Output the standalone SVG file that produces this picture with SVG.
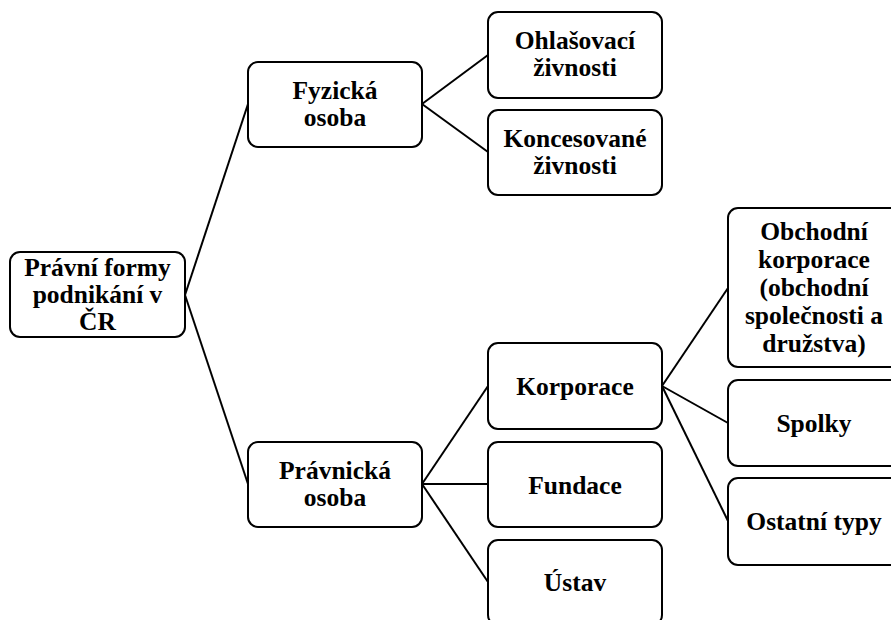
<svg xmlns="http://www.w3.org/2000/svg" width="891" height="620" viewBox="0 0 891 620">
<style>
.box{fill:#fff;stroke:#000;stroke-width:2}
.t{font-family:'Liberation Serif','Times New Roman','DejaVu Serif',serif;font-weight:700;font-size:25.5px;fill:#000;text-anchor:middle}
.c{stroke:#000;stroke-width:2;fill:none}
</style>
<rect width="891" height="620" fill="#fff"/>
<g id="connectors">
<line class="c" x1="185" y1="295" x2="248" y2="104"/>
<line class="c" x1="185" y1="295" x2="248" y2="484"/>
<line class="c" x1="422" y1="104" x2="488" y2="55"/>
<line class="c" x1="422" y1="104" x2="488" y2="152"/>
<line class="c" x1="422" y1="484" x2="488" y2="386"/>
<line class="c" x1="422" y1="484" x2="488" y2="484"/>
<line class="c" x1="422" y1="484" x2="488" y2="582"/>
<line class="c" x1="662" y1="386" x2="728" y2="288"/>
<line class="c" x1="662" y1="386" x2="728" y2="423"/>
<line class="c" x1="662" y1="386" x2="728" y2="521"/>
</g>
<g id="root">
<rect class="box" x="10" y="252" width="175" height="85" rx="10"/>
<text class="t" x="97.5" y="276">Právní formy</text>
<text class="t" x="97.5" y="303">podnikání v</text>
<text class="t" x="97.5" y="330">ČR</text>
</g>
<g id="fyzicka">
<rect class="box" x="248" y="62" width="174" height="85" rx="10"/>
<text class="t" x="335" y="98.5">Fyzická</text>
<text class="t" x="335" y="125.5">osoba</text>
</g>
<g id="pravnicka">
<rect class="box" x="248" y="442" width="174" height="85" rx="10"/>
<text class="t" x="335" y="478.5">Právnická</text>
<text class="t" x="335" y="505.5">osoba</text>
</g>
<g id="ohlasovaci">
<rect class="box" x="488" y="12" width="174" height="86" rx="10"/>
<text class="t" x="575" y="49">Ohlašovací</text>
<text class="t" x="575" y="76">živnosti</text>
</g>
<g id="koncesovane">
<rect class="box" x="488" y="110" width="174" height="85" rx="10"/>
<text class="t" x="575" y="146.5">Koncesované</text>
<text class="t" x="575" y="173.5">živnosti</text>
</g>
<g id="korporace">
<rect class="box" x="488" y="343" width="174" height="86" rx="10"/>
<text class="t" x="575" y="395">Korporace</text>
</g>
<g id="fundace">
<rect class="box" x="488" y="442" width="174" height="85" rx="10"/>
<text class="t" x="575" y="493.5">Fundace</text>
</g>
<g id="ustav">
<rect class="box" x="488" y="540" width="174" height="85" rx="10"/>
<text class="t" x="575" y="591">Ústav</text>
</g>
<g id="obchodni">
<rect class="box" x="728" y="208" width="172" height="159" rx="10"/>
<text class="t" x="814" y="240">Obchodní</text>
<text class="t" x="814" y="268">korporace</text>
<text class="t" x="814" y="296">(obchodní</text>
<text class="t" x="814" y="324">společnosti a</text>
<text class="t" x="814" y="352">družstva)</text>
</g>
<g id="spolky">
<rect class="box" x="728" y="380" width="172" height="86" rx="10"/>
<text class="t" x="814" y="432">Spolky</text>
</g>
<g id="ostatni">
<rect class="box" x="728" y="478" width="172" height="87" rx="10"/>
<text class="t" x="814" y="530">Ostatní typy</text>
</g>
</svg>
